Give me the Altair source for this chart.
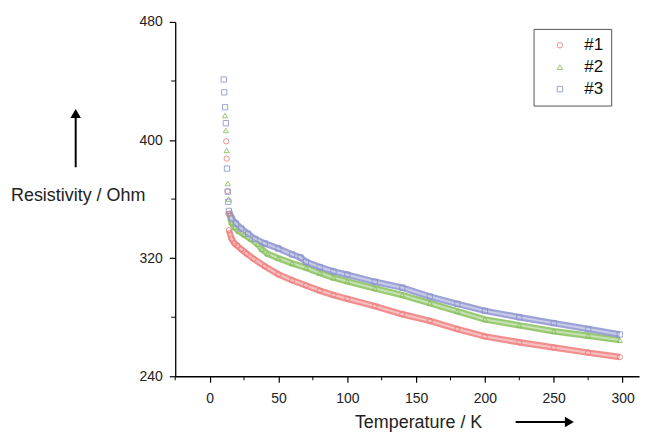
import altair as alt
import pandas as pd

# ---- data ----
series = ["#1", "#2", "#3"]
colors = ["#ee7b7b", "#86c05a", "#8c93cf"]
shapes = ["circle", "triangle-up", "square"]

t1 = [14, 16, 18, 20, 23, 27, 32, 40, 50, 60, 70, 80, 90, 100, 120, 140, 160, 180, 200, 225, 250, 275, 298]
r1 = [339, 333, 330, 328.5, 326, 323, 319.5, 314.5, 309, 305, 301.5, 298, 295, 292.5, 287.5, 282, 277.5, 272, 267, 263, 259.5, 256, 253]

t2 = [14.5, 16, 18, 21, 25, 30, 35, 38, 42, 50, 60, 70, 80, 90, 100, 120, 140, 160, 180, 200, 225, 250, 275, 298]
r2 = [350, 344, 341, 338.5, 336, 333, 329.5, 326, 323, 320, 316.5, 313.5, 310, 306.8, 304.3, 299.5, 295, 289.5, 284, 278.5, 274.5, 270.5, 267.5, 264.5]

t3 = [14, 16, 19, 23, 28, 33, 40, 50, 60, 66, 70, 80, 90, 100, 120, 140, 160, 180, 200, 225, 250, 275, 298]
r3 = [352, 347, 343.5, 340, 336.5, 333, 330, 326.5, 322.5, 320.5, 317.5, 314, 311, 308.8, 304, 300, 294, 289, 284.3, 280, 276, 272, 268.3]

# isolated low-temperature points
st1 = [12.0, 12.4, 13.0, 13.6]
sr1 = [399.1, 387.4, 365.5, 350]
st2 = [11.2, 11.8, 12.4, 13.2, 13.8]
sr2 = [416.6, 406.5, 393, 370.6, 360]
st3 = [10.3, 10.6, 11.2, 11.8, 12.6, 13.2, 13.6]
sr3 = [441, 432.3, 422.2, 411.4, 380.7, 365, 358.2]

x_major = [0, 50, 100, 150, 200, 250, 300]
x_minor = [-25, 25, 75, 125, 175, 225, 275]
y_major = [240, 320, 400, 480]
y_minor = [280, 360, 440]

# ---- tables ----
curve = pd.concat([
    pd.DataFrame({"T": t1, "R": r1, "g": "a1"}),
    pd.DataFrame({"T": t2, "R": r2, "g": "a2"}),
    pd.DataFrame({"T": t3, "R": r3, "g": "a3"}),
])
pts = pd.concat([
    pd.DataFrame({"T": t1, "R": r1, "s": "#1"}),
    pd.DataFrame({"T": t2, "R": r2, "s": "#2"}),
    pd.DataFrame({"T": t3, "R": r3, "s": "#3"}),
    pd.DataFrame({"T": st1, "R": sr1, "s": "#1"}),
    pd.DataFrame({"T": st2, "R": sr2, "s": "#2"}),
    pd.DataFrame({"T": st3, "R": sr3, "s": "#3"}),
])

W, H = 466, 356
FONT = "Liberation Sans"

xs = alt.Scale(domain=[-25, 312], nice=False, zero=False)
ys = alt.Scale(domain=[240, 480], nice=False, zero=False)

x_enc = alt.X("T:Q", scale=xs, axis=alt.Axis(
    values=x_major, title="Temperature / K", grid=False, tickSize=6,
    labelPadding=9, titleX=244, titleY=46, titleBaseline="middle",
    titleAlign="center", titleFontSize=18, titleFontWeight="normal"))
y_enc = alt.Y("R:Q", scale=ys, axis=alt.Axis(
    values=y_major, title="Resistivity / Ohm", grid=False, tickSize=6,
    labelPadding=7, titleAngle=0, titleX=-98, titleY=174, titleAlign="center",
    titleBaseline="middle", titleFontSize=18, titleFontWeight="normal"))

band = alt.Chart(curve).mark_line(strokeWidth=6.5, opacity=0.85).encode(
    x=x_enc, y=y_enc,
    stroke=alt.Stroke("g:N", scale=alt.Scale(domain=["a1", "a2", "a3"], range=colors), legend=None),
)
inner = alt.Chart(curve).mark_line(strokeWidth=2, color="white", opacity=0.45).encode(
    x="T:Q", y="R:Q", detail="g:N")

leg = alt.Legend(orient="none", legendX=360, legendY=7, title=None,
                 strokeColor="#555", padding=8, labelFontSize=17,
                 labelFont=FONT, labelColor="#111", symbolSize=30,
                 symbolStrokeWidth=1, rowPadding=4, labelOffset=16,
                 symbolOffset=10, fillColor="white")

points = alt.Chart(pts).mark_point(filled=False, size=28, strokeWidth=1, opacity=0.85).encode(
    x="T:Q", y="R:Q",
    color=alt.Color("s:N", scale=alt.Scale(domain=series, range=colors), legend=leg),
    shape=alt.Shape("s:N", scale=alt.Scale(domain=series, range=shapes), legend=leg),
)

xminor = alt.Chart(pd.DataFrame({"v": x_minor})).mark_rule(color="black", strokeWidth=1).encode(
    x="v:Q", y=alt.value(H), y2=alt.value(H + 4))
yminor = alt.Chart(pd.DataFrame({"v": y_minor})).mark_rule(color="black", strokeWidth=1).encode(
    y="v:Q", x=alt.value(0), x2=alt.value(-4))

one = pd.DataFrame({"a": [0]})
up_shaft = alt.Chart(one).mark_rule(color="black", strokeWidth=2).encode(
    x=alt.value(-100), y=alt.value(146), y2=alt.value(95))
up_head = alt.Chart(one).mark_point(shape="triangle-up", filled=True, color="black",
                                    size=110, opacity=1).encode(x=alt.value(-100), y=alt.value(92))
rt_shaft = alt.Chart(one).mark_rule(color="black", strokeWidth=2).encode(
    x=alt.value(342), x2=alt.value(393), y=alt.value(402))
rt_head = alt.Chart(one).mark_point(shape="triangle-right", filled=True, color="black",
                                    size=110, opacity=1).encode(x=alt.value(396), y=alt.value(402))

chart = alt.layer(band, inner, points, xminor, yminor, up_shaft, up_head, rt_shaft, rt_head).properties(
    width=W, height=H,
    autosize=alt.AutoSizeParams(type="none"),
    padding={"left": 168, "top": 13, "right": 10, "bottom": 55},
).configure_view(stroke=None).configure_axis(
    labelFont=FONT, titleFont=FONT, labelFontSize=14, labelColor="#222",
    titleColor="#222", domainColor="black", tickColor="black", domainWidth=1.3,
    tickWidth=1.2,
).configure_legend(labelFont=FONT)

chart.save("out.html", embed_options={"renderer": "svg", "actions": False})
